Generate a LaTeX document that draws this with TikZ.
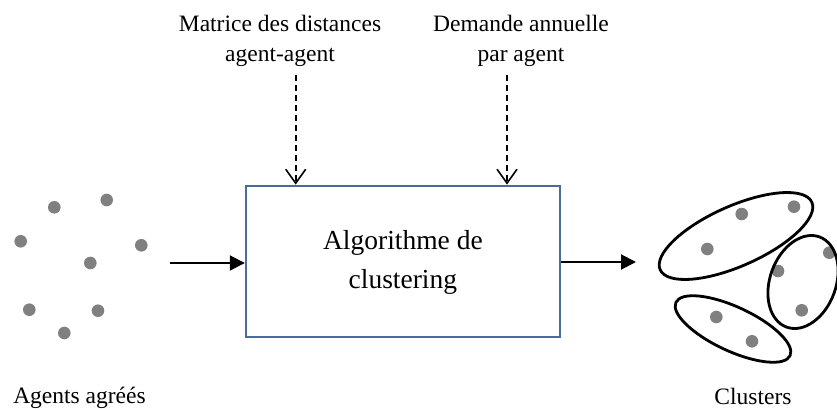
\documentclass[tikz,border=0pt]{standalone}
\usepackage{fontspec}
\setmainfont{Liberation Serif}
\usetikzlibrary{arrows.meta}
\definecolor{boxblue}{HTML}{4A6C9B}
\definecolor{dotgray}{HTML}{808080}
\begin{document}
\begin{tikzpicture}[x=1pt,y=-1pt,
  lbl/.style={inner sep=0pt, anchor=base, font=\fontsize{23.5}{30}\selectfont},
  algobox/.style={draw=boxblue, line width=2.2pt, minimum width=314pt, minimum height=151pt, inner sep=0pt, font=\fontsize{27.5}{38.5}\selectfont},
  flow/.style={line width=2pt, -{Triangle[length=15pt,width=15pt]}},
  dashin/.style={line width=1.6pt, dash pattern=on 6pt off 4pt, -{Straight Barb[length=14pt,width=20pt,line width=1.6pt]}},
  agent/.style={fill=dotgray},
  grp/.style={line width=2.8pt}]
\useasboundingbox (0,0) rectangle (837,409);

% labels
\node[lbl] (mat) at (280,32) {\begin{tabular}[t]{@{}c@{}}Matrice des distances\\agent-agent\end{tabular}};
\node[lbl] (dem) at (521,32) {\begin{tabular}[t]{@{}c@{}}Demande annuelle\\par agent\end{tabular}};
\node[lbl] (agents) at (79.5,403) {Agents agréés};
\node[lbl] (clusters) at (753,404) {Clusters};

% main box
\node[algobox] (algo) at (402.9,261.2) {\begin{tabular}{@{}c@{}}Algorithme de\\clustering\end{tabular}};

% dashed inputs
\coordinate (m1) at (295.7,75);
\coordinate (m2) at (507,75);
\draw[dashin] (m1) -- (m1 |- algo.north);
\draw[dashin] (m2) -- (m2 |- algo.north);

% flow arrows
\coordinate (inS) at (170,263);
\coordinate (outE) at (636,262);
\draw[flow] (inS) -- (inS -| algo.west);
\draw[flow] (algo.east |- outE) -- (outE);

% agents (left)
\foreach \p in {(54.3,207.3),(106.7,200),(20.7,241.3),(141.3,245.3),(90.3,263),(29.3,309.7),(98,310.7),(64.3,333)}
  \fill[agent] \p circle[radius=6.3pt];

% clusters (right)
\foreach \p in {(741.7,214),(794,206.7),(707.3,249),(829.3,252.7),(778,271),(801.7,310.3),(716.3,317),(752,341.3)}
  \fill[agent] \p circle[radius=6.3pt];
\draw[grp, rotate around={24:(736,236)}] (736,236) ellipse [x radius=83pt, y radius=30pt];
\draw[grp, rotate around={70:(803,282)}] (803,282) ellipse [x radius=48pt, y radius=33pt];
\draw[grp, rotate around={-25:(733,329)}] (733,329) ellipse [x radius=63pt, y radius=22pt];
\end{tikzpicture}
\end{document}
